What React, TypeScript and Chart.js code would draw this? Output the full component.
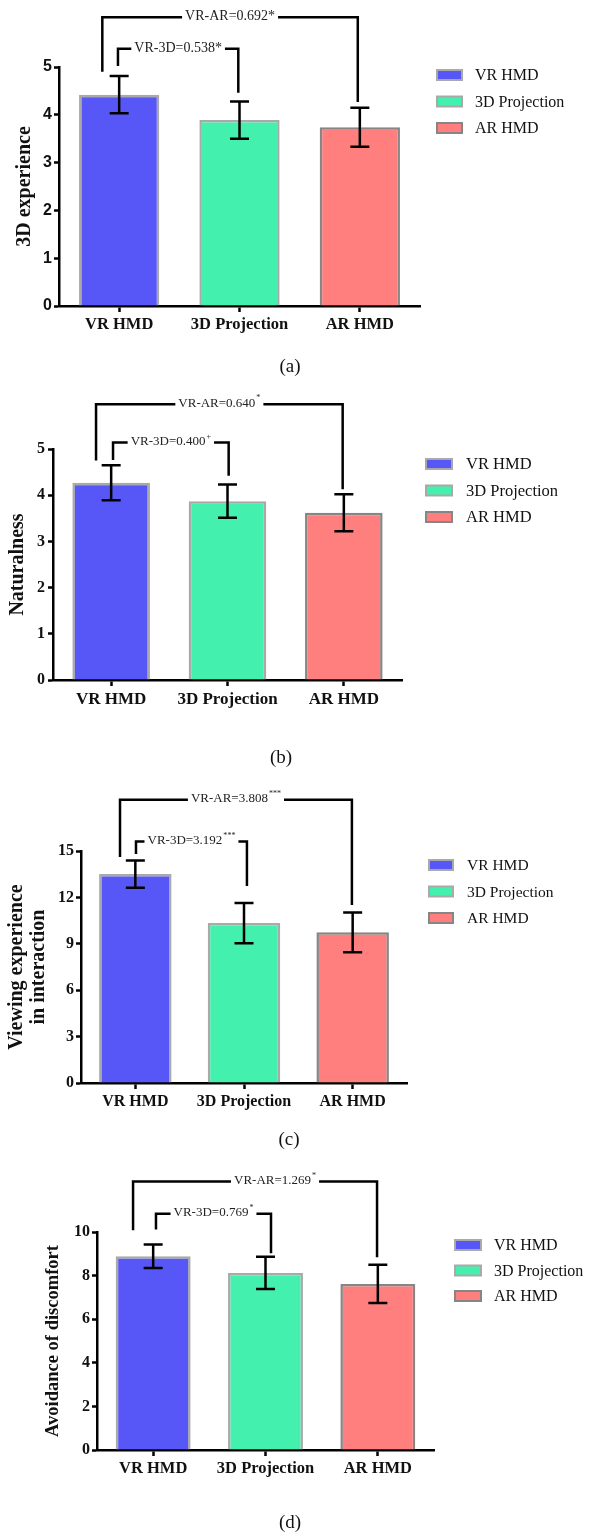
import React, { useEffect, useRef } from 'react';
import { Chart, registerables } from 'chart.js';

Chart.register(...registerables);

// ---------- data ----------
const categories = ['VR HMD', '3D Projection', 'AR HMD'];
const barColors = ['#5757F8', '#44F0AE', '#FF7F7F'];
const barBorders = ['#A9A9A9', '#A9A9A9', '#868686'];

const experienceMeans = [4.42, 3.89, 3.74];
const experienceErrors = [0.39, 0.39, 0.41];
const experienceTicks = [0, 1, 2, 3, 4, 5];
const experienceLabels = ['VR-AR=0.692*', 'VR-3D=0.538*'];
const experienceSups = ['', ''];

const naturalnessMeans = [4.27, 3.87, 3.62];
const naturalnessErrors = [0.38, 0.36, 0.4];
const naturalnessTicks = [0, 1, 2, 3, 4, 5];
const naturalnessLabels = ['VR-AR=0.640', 'VR-3D=0.400'];
const naturalnessSups = ['*', '+'];

const viewingMeans = [13.51, 10.34, 9.74];
const viewingErrors = [0.88, 1.3, 1.29];
const viewingTicks = [0, 3, 6, 9, 12, 15];
const viewingLabels = ['VR-AR=3.808', 'VR-3D=3.192'];
const viewingSups = ['***', '***'];

const discomfortMeans = [8.89, 8.12, 7.62];
const discomfortErrors = [0.54, 0.74, 0.88];
const discomfortTicks = [0, 2, 4, 6, 8, 10];
const discomfortLabels = ['VR-AR=1.269', 'VR-3D=0.769'];
const discomfortSups = ['*', '*'];

// ---------- presentation ----------
const SERIF = '"Times New Roman", "Liberation Serif", serif';
const SANS = 'Arial, "Liberation Sans", sans-serif';
const W = 592;
const X_AXIS_H = 40;

type Bracket = { x0: number; x1: number; yTop: number; y0: number; y1: number; shift: number };
type Panel = {
  top: number;
  height: number;
  means: number[];
  errors: number[];
  ticks: number[];
  labels: string[];
  sups: string[];
  brackets: Bracket[];
  bracketFont: number;
  yTitle: string | string[];
  yTitleSize: number;
  yTitlePad: number;
  yTitleLH: number;
  tickFamily: string;
  tickSize: number;
  tickPad: number;
  xSize: number;
  area: { left: number; right: number; top: number; bottom: number };
  legend: { x: number; y: number; gap: number; textX: number; boxW: number; size: number };
  caption: string;
  capX: number;
  capY: number;
};

const panels: Panel[] = [
  {
    top: 0,
    height: 380,
    means: experienceMeans,
    errors: experienceErrors,
    ticks: experienceTicks,
    labels: experienceLabels,
    sups: experienceSups,
    brackets: [
      { x0: -0.14, x1: 1.983, yTop: 6.04, y0: 4.9, y1: 4.27, shift: 0 },
      { x0: -0.01, x1: 0.99, yTop: 5.38, y0: 5.02, y1: 4.46, shift: 0 },
    ],
    bracketFont: 14,
    yTitle: '3D experience',
    yTitleSize: 20,
    yTitlePad: 13,
    yTitleLH: 1.2,
    tickFamily: SANS,
    tickSize: 16,
    tickPad: 2,
    xSize: 16.5,
    area: { left: 59, right: 420, top: 67, bottom: 306 },
    legend: { x: 437, y: 75, gap: 26.5, textX: 475, boxW: 25, size: 16 },
    caption: '(a)',
    capX: 290,
    capY: 367,
  },
  {
    top: 380,
    height: 392,
    means: naturalnessMeans,
    errors: naturalnessErrors,
    ticks: naturalnessTicks,
    labels: naturalnessLabels,
    sups: naturalnessSups,
    brackets: [
      { x0: -0.13, x1: 1.99, yTop: 5.97, y0: 4.75, y1: 4.13, shift: 0 },
      { x0: 0.016, x1: 1.01, yTop: 5.14, y0: 4.76, y1: 4.42, shift: 0 },
    ],
    bracketFont: 13,
    yTitle: 'Naturalness',
    yTitleSize: 20,
    yTitlePad: 6,
    yTitleLH: 1.2,
    tickFamily: SERIF,
    tickSize: 16,
    tickPad: 3,
    xSize: 17,
    area: { left: 53, right: 402, top: 69, bottom: 300 },
    legend: { x: 426, y: 84, gap: 26.5, textX: 466, boxW: 26, size: 16.5 },
    caption: '(b)',
    capX: 281,
    capY: 378,
  },
  {
    top: 760,
    height: 395,
    means: viewingMeans,
    errors: viewingErrors,
    ticks: viewingTicks,
    labels: viewingLabels,
    sups: viewingSups,
    brackets: [
      { x0: -0.141, x1: 1.993, yTop: 18.31, y0: 14.62, y1: 11.51, shift: 0 },
      { x0: 0.006, x1: 1.027, yTop: 15.61, y0: 14.81, y1: 12.74, shift: 0 },
    ],
    bracketFont: 13,
    yTitle: ['Viewing experience', 'in interaction'],
    yTitleSize: 20,
    yTitlePad: 6,
    yTitleLH: 1.1,
    tickFamily: SERIF,
    tickSize: 16,
    tickPad: 2,
    xSize: 16,
    area: { left: 81, right: 407, top: 91, bottom: 323 },
    legend: { x: 429, y: 105, gap: 26.5, textX: 467, boxW: 24, size: 15.5 },
    caption: '(c)',
    capX: 289,
    capY: 380,
  },
  {
    top: 1140,
    height: 392,
    means: discomfortMeans,
    errors: discomfortErrors,
    ticks: discomfortTicks,
    labels: discomfortLabels,
    sups: discomfortSups,
    brackets: [
      { x0: -0.179, x1: 1.993, yTop: 12.32, y0: 10.08, y1: 8.84, shift: 20 },
      { x0: 0.025, x1: 1.049, yTop: 10.84, y0: 10.12, y1: 9.02, shift: 0 },
    ],
    bracketFont: 13,
    yTitle: 'Avoidance of discomfort',
    yTitleSize: 18.5,
    yTitlePad: 42,
    yTitleLH: 1.2,
    tickFamily: SERIF,
    tickSize: 16,
    tickPad: 2,
    xSize: 16.5,
    area: { left: 97, right: 434, top: 92, bottom: 310 },
    legend: { x: 455, y: 105, gap: 25.5, textX: 494, boxW: 26, size: 16 },
    caption: '(d)',
    capX: 290,
    capY: 383,
  },
];

function makeOverlay(p: Panel) {
  return {
    id: 'overlay',
    afterDatasetsDraw(chart: any) {
      const ctx = chart.ctx as CanvasRenderingContext2D;
      const ys = chart.scales.y;
      const meta = chart.getDatasetMeta(0);
      ctx.save();
      ctx.strokeStyle = '#000';
      ctx.lineWidth = 2.5;
      const cap = 19;
      meta.data.forEach((bar: any, i: number) => {
        const x = bar.x;
        const t = ys.getPixelForValue(p.means[i] + p.errors[i]);
        const b = ys.getPixelForValue(p.means[i] - p.errors[i]);
        ctx.beginPath();
        ctx.moveTo(x, t);
        ctx.lineTo(x, b);
        ctx.moveTo(x - cap / 2, t);
        ctx.lineTo(x + cap / 2, t);
        ctx.moveTo(x - cap / 2, b);
        ctx.lineTo(x + cap / 2, b);
        ctx.stroke();
      });
      ctx.restore();
    },
    afterDraw(chart: any) {
      const ctx = chart.ctx as CanvasRenderingContext2D;
      const xs = chart.scales.x;
      const ys = chart.scales.y;
      const p0 = xs.getPixelForValue(0);
      const p1 = xs.getPixelForValue(1);
      const px = (v: number) => p0 + (p1 - p0) * v;
      ctx.save();
      // significance brackets
      p.brackets.forEach((b, i) => {
        const main = p.labels[i];
        const sup = p.sups[i];
        const fs = p.bracketFont;
        const sfs = fs * 0.62;
        ctx.font = `${fs}px ${SERIF}`;
        const mw = ctx.measureText(main).width;
        ctx.font = `${sfs}px ${SERIF}`;
        const sw = sup ? ctx.measureText(sup).width + 1 : 0;
        const tw = mw + sw;
        const xl = px(b.x0);
        const xr = px(b.x1);
        const yt = ys.getPixelForValue(b.yTop);
        const yl = ys.getPixelForValue(b.y0);
        const yr = ys.getPixelForValue(b.y1);
        const cx = (xl + xr) / 2 + b.shift;
        const gl = cx - tw / 2 - 3;
        const gr = cx + tw / 2 + 3;
        ctx.strokeStyle = '#000';
        ctx.lineWidth = 2.5;
        ctx.lineJoin = 'miter';
        ctx.beginPath();
        ctx.moveTo(xl, yl);
        ctx.lineTo(xl, yt);
        ctx.lineTo(gl, yt);
        ctx.moveTo(gr, yt);
        ctx.lineTo(xr, yt);
        ctx.lineTo(xr, yr);
        ctx.stroke();
        ctx.fillStyle = '#222';
        ctx.textBaseline = 'middle';
        ctx.textAlign = 'left';
        ctx.font = `${fs}px ${SERIF}`;
        ctx.fillText(main, cx - tw / 2, yt - 1);
        if (sup) {
          ctx.font = `${sfs}px ${SERIF}`;
          ctx.fillText(sup, cx - tw / 2 + mw + 1, yt - 6);
        }
      });
      // legend
      const L = p.legend;
      const labels = chart.data.labels as string[];
      const ds = chart.data.datasets[0];
      ctx.font = `${L.size}px ${SERIF}`;
      ctx.textBaseline = 'middle';
      ctx.textAlign = 'left';
      labels.forEach((lab, i) => {
        const cy = L.y + i * L.gap;
        ctx.fillStyle = ds.backgroundColor[i];
        ctx.fillRect(L.x, cy - 5, L.boxW, 10);
        ctx.strokeStyle = ds.borderColor[i];
        ctx.lineWidth = 2;
        ctx.strokeRect(L.x, cy - 5, L.boxW, 10);
        ctx.fillStyle = '#111';
        ctx.fillText(lab, L.textX, cy + 1);
      });
      // caption
      ctx.font = `19px ${SERIF}`;
      ctx.textAlign = 'center';
      ctx.fillStyle = '#111';
      ctx.fillText(p.caption, p.capX, p.capY);
      ctx.restore();
    },
  };
}

function PanelChart({ p }: { p: Panel }) {
  const ref = useRef<HTMLCanvasElement | null>(null);
  useEffect(() => {
    if (!ref.current) return;
    const maxV = p.ticks[p.ticks.length - 1];
    const chart = new Chart(ref.current, {
      type: 'bar',
      data: {
        labels: categories,
        datasets: [
          {
            data: p.means,
            backgroundColor: barColors,
            borderColor: barBorders,
            borderWidth: 2.5,
            barPercentage: 0.667,
            categoryPercentage: 1,
          },
        ],
      },
      options: {
        responsive: false,
        animation: false,
        devicePixelRatio: 1,
        layout: {
          padding: {
            left: 0,
            top: p.area.top,
            right: W - p.area.right,
            bottom: p.height - p.area.bottom - X_AXIS_H,
          },
        },
        plugins: {
          legend: { display: false },
          tooltip: { enabled: false },
          title: { display: false },
        },
        scales: {
          x: {
            offset: true,
            grid: {
              display: true,
              offset: false,
              drawOnChartArea: false,
              drawTicks: true,
              tickLength: 6,
              tickWidth: 2.5,
              tickColor: '#000',
            },
            border: { display: true, color: '#000', width: 2.5 },
            ticks: {
              color: '#111',
              font: { family: SERIF, size: p.xSize, weight: 'bold' },
              padding: 3,
              maxRotation: 0,
              autoSkip: false,
            },
            afterFit: (s: any) => {
              s.height = X_AXIS_H;
            },
          },
          y: {
            min: 0,
            max: maxV,
            afterBuildTicks: (s: any) => {
              s.ticks = p.ticks.map((v) => ({ value: v }));
            },
            grid: {
              display: true,
              drawOnChartArea: false,
              drawTicks: true,
              tickLength: 5,
              tickWidth: 2.5,
              tickColor: '#000',
            },
            border: { display: true, color: '#000', width: 2.5 },
            ticks: {
              color: '#111',
              font: { family: p.tickFamily, size: p.tickSize, weight: 'bold' },
              padding: p.tickPad,
            },
            title: {
              display: true,
              text: p.yTitle as any,
              color: '#111',
              font: { family: SERIF, size: p.yTitleSize, weight: 'bold', lineHeight: p.yTitleLH },
              padding: { top: p.yTitlePad, bottom: 0 },
            },
            afterFit: (s: any) => {
              s.width = p.area.left;
            },
          },
        },
      } as any,
      plugins: [makeOverlay(p)],
    });
    return () => chart.destroy();
  }, [p]);
  return (
    <canvas
      ref={ref}
      width={W}
      height={p.height}
      style={{ position: 'absolute', left: 0, top: p.top, width: W, height: p.height }}
    />
  );
}

export default function App() {
  return (
    <div style={{ position: 'absolute', left: 0, top: 0, width: W, height: 1532, overflow: 'hidden', background: '#fff' }}>
      {panels.map((p, i) => (
        <PanelChart key={i} p={p} />
      ))}
    </div>
  );
}
